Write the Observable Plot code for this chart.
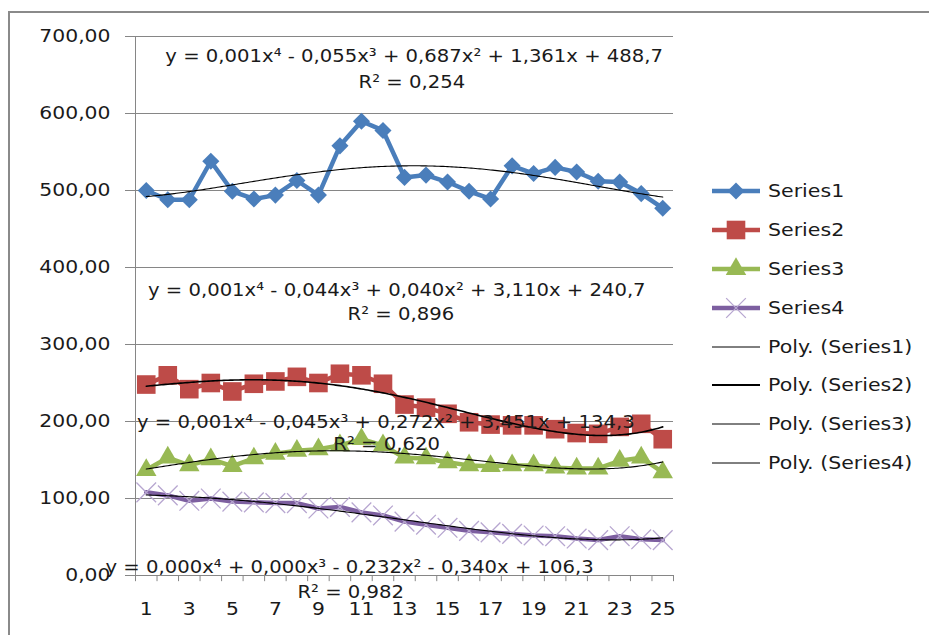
<!DOCTYPE html>
<html>
<head>
<meta charset="utf-8">
<script src="https://cdn.jsdelivr.net/npm/d3@7"></script>
<script src="https://cdn.jsdelivr.net/npm/@observablehq/plot@0.6"></script>
<style>
  html, body { margin: 0; padding: 0; background: #fff; width: 929px; height: 635px; overflow: hidden; }
  #frame { position: absolute; left: 8px; top: 11px; width: 940px; height: 650px; border-left: 2px solid #8a8a8a; border-top: 2px solid #8a8a8a; }
  #chart { position: absolute; left: 0; top: 0; }
  #legend { position: absolute; left: 0; top: 0; }
  #chart svg [aria-label="y-axis tick"], #chart svg .tick line { stroke: #868686; }
</style>
</head>
<body>
<div id="frame"></div>
<div id="chart"></div>
<svg id="legend" width="929" height="635"></svg>
<script>
// ---- data ----
const categories = [1,2,3,4,5,6,7,8,9,10,11,12,13,14,15,16,17,18,19,20,21,22,23,24,25];
const xTickLabels = [1,3,5,7,9,11,13,15,17,19,21,23,25];
const yTicks = [0,100,200,300,400,500,600,700];
const series1 = [500,488,488,538,499,489,494,513,494,558,590,578,517,520,511,499,489,532,522,530,524,512,511,496,477];
const series2 = [248,260,242,250,239,249,252,258,250,262,260,249,222,218,210,199,196,195,195,190,185,184,193,197,177];
const series3 = [137,153,143,151,142,152,158,162,164,169,177,169,153,152,147,143,142,143,143,140,139,139,149,153,134];
const series4 = [108,104,97,100,96,95,94,94,87,89,82,78,70,66,62,58,56,54,52,51,48,46,51,47,46];
const seriesNames = ["Series1","Series2","Series3","Series4"];
const trendNames = ["Poly. (Series1)","Poly. (Series2)","Poly. (Series3)","Poly. (Series4)"];
const equations = [
  "y = 0,001x\u2074 - 0,055x\u00b3 + 0,687x\u00b2 + 1,361x + 488,7",
  "y = 0,001x\u2074 - 0,044x\u00b3 + 0,040x\u00b2 + 3,110x + 240,7",
  "y = 0,001x\u2074 - 0,045x\u00b3 + 0,272x\u00b2 + 3,451x + 134,3",
  "y = 0,000x\u2074 + 0,000x\u00b3 - 0,232x\u00b2 - 0,340x + 106,3"
];
const rSquared = ["R\u00b2 = 0,254","R\u00b2 = 0,896","R\u00b2 = 0,620","R\u00b2 = 0,982"];

// ---- styles / annotation placement (data coordinates) ----
const colors = ["#4A7EBB","#BE4B48","#98B954","#7D5FA0"];
const eqPos = [[13.45,674],[12.64,370],[12.13,199.5],[10.45,10.4]];
const rPos  = [[13.34,640],[12.83,339],[12.17,170],[10.5,-22]];

// ---- polynomial (order 4) trendline, least squares ----
function polyfit(xs, ys, deg) {
  const xm = d3.mean(xs), xs2 = (d3.max(xs) - d3.min(xs)) / 2;
  const t = xs.map(v => (v - xm) / xs2);
  const n = deg + 1;
  const A = Array.from({length: n}, () => new Array(n + 1).fill(0));
  for (let r = 0; r < n; r++) {
    for (let c = 0; c < n; c++) A[r][c] = d3.sum(t, v => Math.pow(v, r + c));
    A[r][n] = d3.sum(t, (v, i) => Math.pow(v, r) * ys[i]);
  }
  for (let i = 0; i < n; i++) {
    let p = i;
    for (let k = i + 1; k < n; k++) if (Math.abs(A[k][i]) > Math.abs(A[p][i])) p = k;
    [A[i], A[p]] = [A[p], A[i]];
    for (let k = i + 1; k < n; k++) {
      const f = A[k][i] / A[i][i];
      for (let j = i; j <= n; j++) A[k][j] -= f * A[i][j];
    }
  }
  const c = new Array(n).fill(0);
  for (let i = n - 1; i >= 0; i--) {
    let s = A[i][n];
    for (let j = i + 1; j < n; j++) s -= A[i][j] * c[j];
    c[i] = s / A[i][i];
  }
  return x => { const u = (x - xm) / xs2; return c.reduce((acc, ci, i) => acc + ci * Math.pow(u, i), 0); };
}

const allSeries = [series1, series2, series3, series4];
const rows = allSeries.map(vals => categories.map((c, i) => ({x: c, y: vals[i]})));
const xs = d3.range(categories[0], categories[categories.length - 1] + 0.001, 0.1);
const trends = allSeries.map(vals => { const f = polyfit(categories, vals, 4); return xs.map(x => ({x, y: f(x)})); });
const boundaries = d3.range(categories.length + 1).map(i => categories[0] - 0.5 + i);
const fmt = d => d.toFixed(2).replace(".", ",");

const symbols = ["diamond2","square","triangle","times"];
const radii = [7.7, 10.5, 7.6, 9];

const marks = [
  Plot.ruleY(yTicks, {stroke: "#868686", strokeWidth: 1}),
  Plot.ruleX([boundaries[0]], {y1: 0, y2: yTicks[yTicks.length - 1], stroke: "#868686"}),
  Plot.ruleX(boundaries, {y1: 0, y2: -8, stroke: "#868686"})
];
rows.forEach((r, i) => {
  marks.push(Plot.line(r, {x: "x", y: "y", stroke: colors[i], strokeWidth: 4.5, strokeLinejoin: "round"}));
  if (i < 3) marks.push(Plot.dot(r, {x: "x", y: "y", symbol: () => symbols[i], r: radii[i], fill: colors[i], stroke: "none"}));
  else marks.push(Plot.dot(r, {x: "x", y: "y", symbol: () => symbols[i], r: radii[i], fill: "none", stroke: "#B7A6D0", strokeWidth: 1.3}));
});
trends.forEach((t, i) => {
  marks.push(Plot.line(t, {x: "x", y: "y", stroke: "#000", strokeWidth: i === 1 ? 1.6 : 1.1}));
});
const labelRows = equations.map((e, i) => ({text: e, x: eqPos[i][0], y: eqPos[i][1]}))
  .concat(rSquared.map((e, i) => ({text: e, x: rPos[i][0], y: rPos[i][1]})));
marks.push(Plot.text(labelRows, {x: "x", y: "y", text: "text", fill: "#1a1a1a", fontSize: 18, textAnchor: "middle", className: "eq"}));

const chart = Plot.plot({
  width: 929, height: 635,
  marginLeft: 135, marginRight: 256, marginTop: 36, marginBottom: 60,
  x: {domain: [boundaries[0], boundaries[boundaries.length - 1]], ticks: xTickLabels, tickSize: 0, tickPadding: 27, tickFormat: d => String(d), label: null},
  y: {domain: [yTicks[0], yTicks[yTicks.length - 1]], ticks: yTicks, tickSize: 10, tickPadding: 15, tickFormat: fmt, label: null},
  style: {fontFamily: "DejaVu Sans", fontSize: "18px", color: "#1a1a1a", background: "transparent", overflow: "visible"},
  marks
});
document.getElementById("chart").appendChild(chart);

// ---- legend ----
const lg = d3.select("#legend").style("font-family", "DejaVu Sans").style("font-size", "18px");
const legendItems = seriesNames.map((n, i) => ({name: n, kind: "series", i}))
  .concat(trendNames.map((n, i) => ({name: n, kind: "trend", i})));
const legendY = [191, 230, 269, 308, 347, 385, 424, 463];
legendItems.forEach((it, k) => {
  const g = lg.append("g").attr("transform", `translate(0,${legendY[k]})`);
  if (it.kind === "series") {
    g.append("line").attr("x1", 712).attr("x2", 760).attr("y1", 0).attr("y2", 0)
      .attr("stroke", colors[it.i]).attr("stroke-width", 4.5);
    const symMap = [d3.symbolDiamond2, d3.symbolSquare, d3.symbolTriangle, d3.symbolTimes];
    const size = Math.PI * radii[it.i] * radii[it.i];
    const p = g.append("path").attr("transform", "translate(736,0)").attr("d", d3.symbol(symMap[it.i], size)());
    if (it.i < 3) p.attr("fill", colors[it.i]);
    else p.attr("fill", "none").attr("stroke", "#B7A6D0").attr("stroke-width", 1.3);
  } else {
    g.append("line").attr("x1", 712).attr("x2", 760).attr("y1", 0).attr("y2", 0)
      .attr("stroke", "#000").attr("stroke-width", it.i === 1 ? 2 : 1);
  }
  g.append("text").attr("x", 768).attr("y", 0).attr("dy", "0.35em").attr("fill", "#1a1a1a").text(it.name);
});

// horizontal stretch of text to mimic the wide original lettering
function stretch(root, k, kEq) {
  root.querySelectorAll("text").forEach(el => {
    const L = el.getComputedTextLength();
    const isEq = el.closest(".eq") !== null;
    if (L > 0) { el.setAttribute("textLength", (L * (isEq ? kEq : k)).toFixed(1)); el.setAttribute("lengthAdjust", "spacingAndGlyphs"); }
  });
}
stretch(chart, 1.13, 1.09);
stretch(document.getElementById("legend"), 1.14, 1.14);
</script>
</body>
</html>
